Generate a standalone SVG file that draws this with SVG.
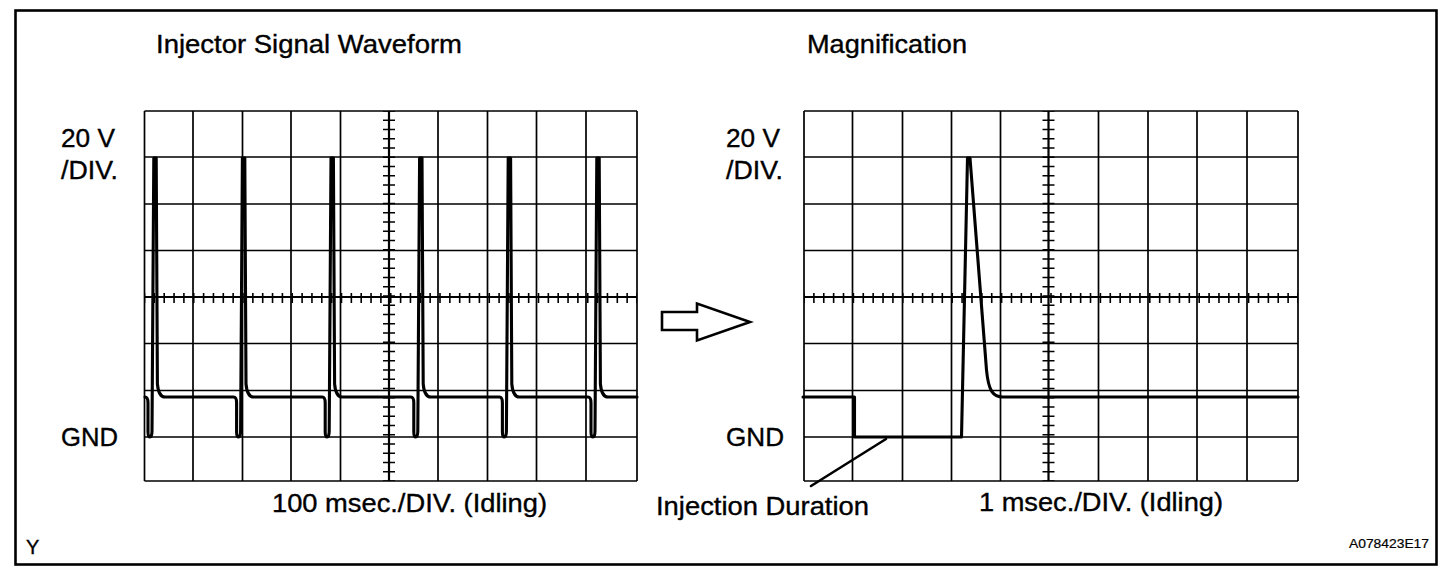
<svg xmlns="http://www.w3.org/2000/svg" width="1456" height="570" viewBox="0 0 1456 570">
<style>
.lbl{font-family:"Liberation Sans",Arial,Helvetica,sans-serif;font-size:25px;fill:#000;stroke:#000;stroke-width:0.35}
.grid{fill:none;stroke:#000;stroke-width:1.7}
.axis{fill:none;stroke:#000;stroke-width:2.2}
.tickv{fill:none;stroke:#000;stroke-width:12;stroke-dasharray:1.6 7.65;stroke-dashoffset:0.8}
.wave{fill:none;stroke:#000;stroke-width:3.1;stroke-linejoin:round;stroke-linecap:round}
.lead{fill:none;stroke:#000;stroke-width:2.6;stroke-linecap:round}
</style>
<rect width="1456" height="570" fill="#fff"/>
<rect x="15.5" y="10.5" width="1421" height="554" fill="none" stroke="#000" stroke-width="2.6"/>

<g id="left-scope">
  <text class="lbl" x="156" y="53" textLength="306" lengthAdjust="spacingAndGlyphs">Injector Signal Waveform</text>
  <text class="lbl" x="61" y="147" textLength="54" lengthAdjust="spacingAndGlyphs">20 V</text>
  <text class="lbl" x="61" y="179" textLength="57" lengthAdjust="spacingAndGlyphs">/DIV.</text>
  <text class="lbl" x="61" y="446" textLength="57" lengthAdjust="spacingAndGlyphs">GND</text>
  <text class="lbl" x="272" y="512" textLength="275" lengthAdjust="spacingAndGlyphs">100 msec./DIV. (Idling)</text>
  <path class="grid" d="M144.5,111V481M193,111V481M242.5,111V481M291,111V481M340.5,111V481M438,111V481M487.5,111V481M536.5,111V481M586,111V481M637,111V481M144.5,111H637M144.5,157H637M144.5,204H637M144.5,250.5H637M144.5,343.5H637M144.5,390.5H637M144.5,437H637M144.5,481H637"/>
  <path class="axis" d="M389,111V481M144.5,297H637"/>
  <line class="tickv" x1="389" y1="111" x2="389" y2="481"/>
  <line class="tickv" x1="144.5" y1="298" x2="637" y2="298" style="stroke-width:10;stroke-dasharray:1.6 8.25"/>
  <path class="wave" d="M145,397 Q148,397 148,403 L148,432 Q148,437 150,437 Q152,437 152,431 L153.8,158 L156.2,158 L157.4,384 Q158.6,397 165,397
  L233.6,397 Q236.6,397 236.6,403 L236.6,432 Q236.6,437 238.6,437 Q240.6,437 240.6,431 L242.4,158 L244.8,158 L246,384 Q247.2,397 253.6,397
  L322.2,397 Q325.2,397 325.2,403 L325.2,432 Q325.2,437 327.2,437 Q329.2,437 329.2,431 L331,158 L333.4,158 L334.6,384 Q335.8,397 342.2,397
  L410.8,397 Q413.8,397 413.8,403 L413.8,432 Q413.8,437 415.8,437 Q417.8,437 417.8,431 L419.6,158 L422,158 L423.2,384 Q424.4,397 430.8,397
  L499.4,397 Q502.4,397 502.4,403 L502.4,432 Q502.4,437 504.4,437 Q506.4,437 506.4,431 L508.2,158 L510.6,158 L511.8,384 Q513,397 519.4,397
  L588,397 Q591,397 591,403 L591,432 Q591,437 593,437 Q595,437 595,431 L596.8,158 L599.2,158 L600.4,384 Q601.6,397 608,397 L637,397"/>
</g>

<g id="arrow">
  <polygon points="662,312 697,312 697,303.5 750,322 697,340.5 697,330 662,330" fill="#fff" stroke="#000" stroke-width="2.6"/>
</g>

<g id="right-scope">
  <text class="lbl" x="807" y="53" textLength="160" lengthAdjust="spacingAndGlyphs">Magnification</text>
  <text class="lbl" x="726" y="147" textLength="54" lengthAdjust="spacingAndGlyphs">20 V</text>
  <text class="lbl" x="726" y="179" textLength="57" lengthAdjust="spacingAndGlyphs">/DIV.</text>
  <text class="lbl" x="726" y="446" textLength="58" lengthAdjust="spacingAndGlyphs">GND</text>
  <text class="lbl" x="979" y="511" textLength="244" lengthAdjust="spacingAndGlyphs">1 msec./DIV. (Idling)</text>
  <path class="grid" d="M804,111V481M852.5,111V481M902.5,111V481M951.5,111V481M1000.5,111V481M1098.5,111V481M1148,111V481M1197,111V481M1247,111V481M1298,111V481M804,111H1298M804,157H1298M804,204H1298M804,250.5H1298M804,343.5H1298M804,390.5H1298M804,437H1298M804,481H1298"/>
  <path class="axis" d="M1048.5,111V481M804,297H1298"/>
  <line class="tickv" x1="1048.5" y1="111" x2="1048.5" y2="481"/>
  <line class="tickv" x1="804" y1="298" x2="1298" y2="298" style="stroke-width:10;stroke-dasharray:1.6 8.28"/>
  <path class="wave" d="M803,397 L854.5,397 L854.5,437 L961.5,437 L967.5,158 L970,158 L986.5,370 C988.5,391 993,397 1003,397 L1298,397"/>
</g>

<g id="injection-duration">
  <text class="lbl" x="656" y="515" textLength="213" lengthAdjust="spacingAndGlyphs">Injection Duration</text>
</g>

<g id="connectors">
  <line class="lead" x1="811" y1="486" x2="886" y2="439"/>
</g>

<g id="corner-labels">
  <text class="lbl" x="26" y="554" style="font-size:20px">Y</text>
  <text class="lbl" x="1349" y="548" style="font-size:12.5px;stroke-width:0.2" textLength="80" lengthAdjust="spacingAndGlyphs">A078423E17</text>
</g>
</svg>
